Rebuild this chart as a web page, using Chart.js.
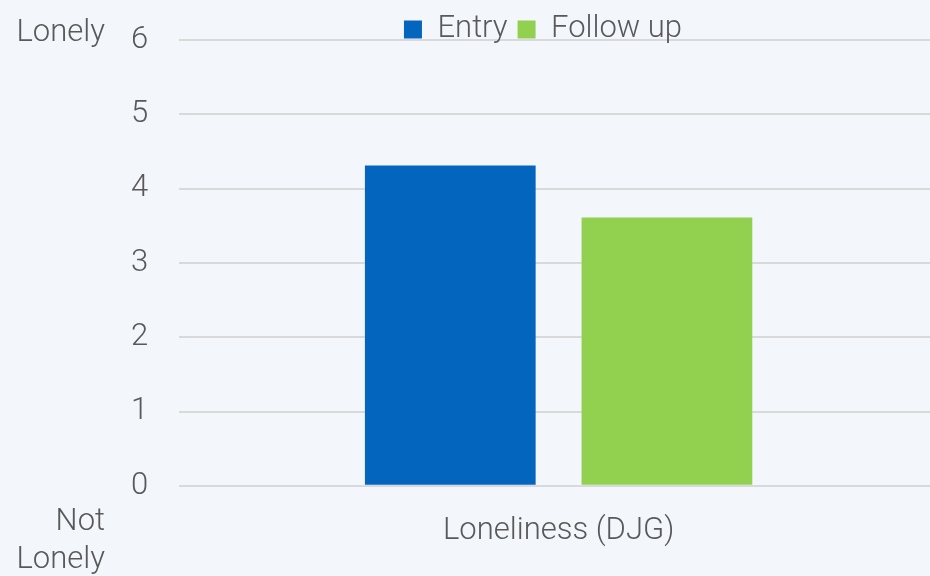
<!DOCTYPE html>
<html>
<head>
<meta charset="utf-8">
<script src="https://cdn.jsdelivr.net/npm/chart.js@4"></script>
<style>
  body { margin: 0; background: #f3f6fb; }
  #wrap { width: 930px; height: 576px; }
</style>
</head>
<body>
<div id="wrap"><canvas id="lonelyChart" width="930" height="576"></canvas></div>
<script>
let categories = ['Loneliness (DJG)']
let entry = [4.31]
let followUp = [3.61]
let seriesNames = ['Entry', 'Follow up']
let yTicks = [0, 1, 2, 3, 4, 5, 6]

let textColor = '#595959'
let fontFamily = 'Roboto, "Liberation Sans", sans-serif'
let fontSize = 31
let plotTop = 40

// the legend overlaps the top of the plot in the original:
// pull the plot area up to y = plotTop after Chart.js has laid it out
let plotFit = {
  id: 'plotFit',
  afterLayout(chart) {
    let area = chart.chartArea
    let y = chart.scales.y
    area.top = plotTop
    area.height = area.bottom - area.top
    y.top = plotTop
    y.height = y.bottom - y.top
    y.configure()

    // plot runs a little past the right edge of the canvas
    let x = chart.scales.x
    x.right += 8
    x.width += 8
    x.configure()

    // legend sits a bit right of centre, just above the top gridline
    let legend = chart.legend
    legend.left += 28
    legend.right += 28
    legend.top = 4
    legend.bottom = legend.top + legend.height
  }
}

// side captions "Lonely" / "Not Lonely"
let sideLabels = {
  id: 'sideLabels',
  afterDraw(chart) {
    let ctx = chart.ctx
    let y = chart.scales.y
    ctx.save()
    ctx.fillStyle = textColor
    ctx.font = '300 ' + fontSize + 'px ' + fontFamily
    ctx.textAlign = 'right'
    ctx.textBaseline = 'middle'
    ctx.fillText('Lonely', 105, y.getPixelForValue(6) - 7)
    ctx.fillText('Not', 105, y.getPixelForValue(0) + 36)
    ctx.fillText('Lonely', 105, y.getPixelForValue(0) + 74)
    ctx.restore()
  }
}

const ctx = document.getElementById('lonelyChart').getContext('2d')

new Chart(ctx, {
  type: 'bar',
  data: {
    labels: categories,
    datasets: [{
      label: seriesNames[0],
      data: entry,
      backgroundColor: '#0465bf',
      borderWidth: 0
    }, {
      label: seriesNames[1],
      data: followUp,
      backgroundColor: '#92d050',
      borderWidth: 0
    }]
  },
  options: {
    responsive: false,
    animation: false,
    layout: {
      padding: { left: 100, right: 0, top: 0, bottom: 7 }
    },
    datasets: {
      bar: { categoryPercentage: 0.571, barPercentage: 0.788 }
    },
    plugins: {
      legend: {
        display: true,
        position: 'top',
        labels: {
          color: textColor,
          font: { family: fontFamily, size: fontSize, weight: '300' },
          boxWidth: 18,
          boxHeight: 18,
          padding: 10
        }
      },
      tooltip: { enabled: false }
    },
    scales: {
      x: {
        grid: { display: false },
        border: { display: false },
        ticks: {
          color: textColor,
          font: { family: fontFamily, size: fontSize, weight: '300' },
          padding: 19
        }
      },
      y: {
        min: 0,
        max: 6,
        afterBuildTicks: axis => { axis.ticks = yTicks.map(v => ({ value: v })) },
        grid: { color: '#d9d9d9', lineWidth: 2, drawTicks: false },
        border: { display: false },
        ticks: {
          color: textColor,
          font: { family: fontFamily, size: fontSize, weight: '300' },
          padding: 31
        }
      }
    }
  },
  plugins: [plotFit, sideLabels]
})
</script>
</body>
</html>
